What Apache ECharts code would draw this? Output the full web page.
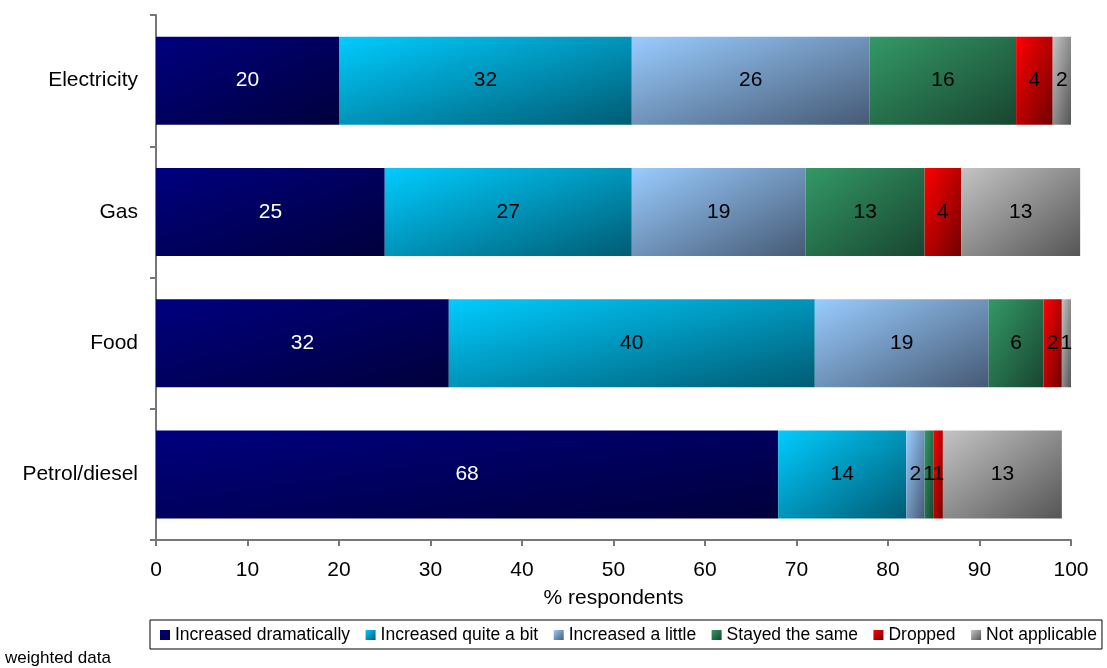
<!DOCTYPE html>
<html>
<head>
<meta charset="utf-8">
<script src="https://cdn.jsdelivr.net/npm/echarts@6/dist/echarts.min.js"></script>
<style>
html,body{margin:0;padding:0;background:#fff;}
#chart{width:1107px;height:668px;}
</style>
</head>
<body>
<div id="chart"></div>
<script>
const categories = ['Electricity', 'Gas', 'Food', 'Petrol/diesel'];
const seriesNames = ['Increased dramatically', 'Increased quite a bit', 'Increased a little', 'Stayed the same', 'Dropped', 'Not applicable'];
const increasedDramatically = [20, 25, 32, 68];
const increasedQuiteABit = [32, 27, 40, 14];
const increasedALittle = [26, 19, 19, 2];
const stayedTheSame = [16, 13, 6, 1];
const dropped = [4, 4, 2, 1];
const notApplicable = [2, 13, 1, 13];
const xTicks = { min: 0, max: 100, interval: 10 };

const seriesData = [increasedDramatically, increasedQuiteABit, increasedALittle, stayedTheSame, dropped, notApplicable];
const gradStops = [
  ['#000080', '#00003c'],
  ['#00ccff', '#005c74'],
  ['#99ccff', '#465a75'],
  ['#339966', '#184530'],
  ['#ff0000', '#700000'],
  ['#c4c4c4', '#555555']
];
const labelColors = ['#ffffff', '#000', '#000', '#000', '#000', '#000'];
const FONT = '"Liberation Sans", Arial, Helvetica, sans-serif';

const GRID = { left: 156, right: 36, top: 15, bottom: 128 };
const BAR_H = 88;
const PX_PER_UNIT = (1107 - GRID.left - GRID.right) / (xTicks.max - xTicks.min);

// corner-to-corner gradient with isolines parallel to the anti-diagonal (Excel style)
function grad(c, w, h) {
  const d = h * h + w * w;
  const x2 = 2 * h * h / d;
  const y2 = 2 * w * w / d;
  return new echarts.graphic.LinearGradient(0, 0, x2, y2, [
    { offset: 0, color: c[0] },
    { offset: 1, color: c[1] }
  ]);
}

const chart = echarts.init(document.getElementById('chart'), null, { renderer: 'canvas' });
chart.setOption({
  animation: false,
  backgroundColor: '#ffffff',
  textStyle: { fontFamily: FONT },
  grid: { left: GRID.left, right: GRID.right, top: GRID.top, bottom: GRID.bottom, containLabel: false },
  legend: {
    data: seriesNames,
    left: 150,
    top: 620,
    orient: 'horizontal',
    padding: [6, 5, 5, 10],
    borderColor: '#000',
    borderWidth: 1,
    itemWidth: 10,
    itemHeight: 10,
    itemGap: 15.5,
    icon: 'rect',
    selectedMode: false,
    textStyle: { fontFamily: FONT, fontSize: 17.5, color: '#000' }
  },
  graphic: [{
    type: 'text',
    left: 5,
    top: 650,
    style: { text: 'weighted data', font: '17px ' + FONT, fill: '#000' }
  }],
  xAxis: {
    type: 'value',
    min: xTicks.min,
    max: xTicks.max,
    interval: xTicks.interval,
    name: '% respondents',
    nameLocation: 'middle',
    nameGap: 48,
    nameTextStyle: { fontFamily: FONT, fontSize: 21, color: '#000' },
    axisLine: { show: true, lineStyle: { color: '#777', width: 2 } },
    axisTick: { show: true, length: 6, lineStyle: { color: '#777', width: 2 } },
    axisLabel: { fontFamily: FONT, fontSize: 21, color: '#000', margin: 20 },
    splitLine: { show: false }
  },
  yAxis: {
    type: 'category',
    data: categories,
    inverse: true,
    axisLine: { show: true, lineStyle: { color: '#777', width: 2 } },
    axisTick: { show: true, length: 6, alignWithLabel: false, lineStyle: { color: '#777', width: 2 } },
    axisLabel: { fontFamily: FONT, fontSize: 21, color: '#000', margin: 18 },
    splitLine: { show: false }
  },
  series: seriesNames.map((name, i) => ({
    name: name,
    type: 'bar',
    stack: 'total',
    barWidth: BAR_H,
    clip: false,
    data: seriesData[i].map(v => ({
      value: v,
      itemStyle: { color: grad(gradStops[i], Math.max(v * PX_PER_UNIT, 1), BAR_H) }
    })),
    itemStyle: { color: grad(gradStops[i], 10, 10) },
    label: {
      show: true,
      position: 'inside',
      fontFamily: FONT,
      fontSize: 21,
      color: labelColors[i],
      textBorderWidth: 0
    }
  }))
});
</script>
</body>
</html>
